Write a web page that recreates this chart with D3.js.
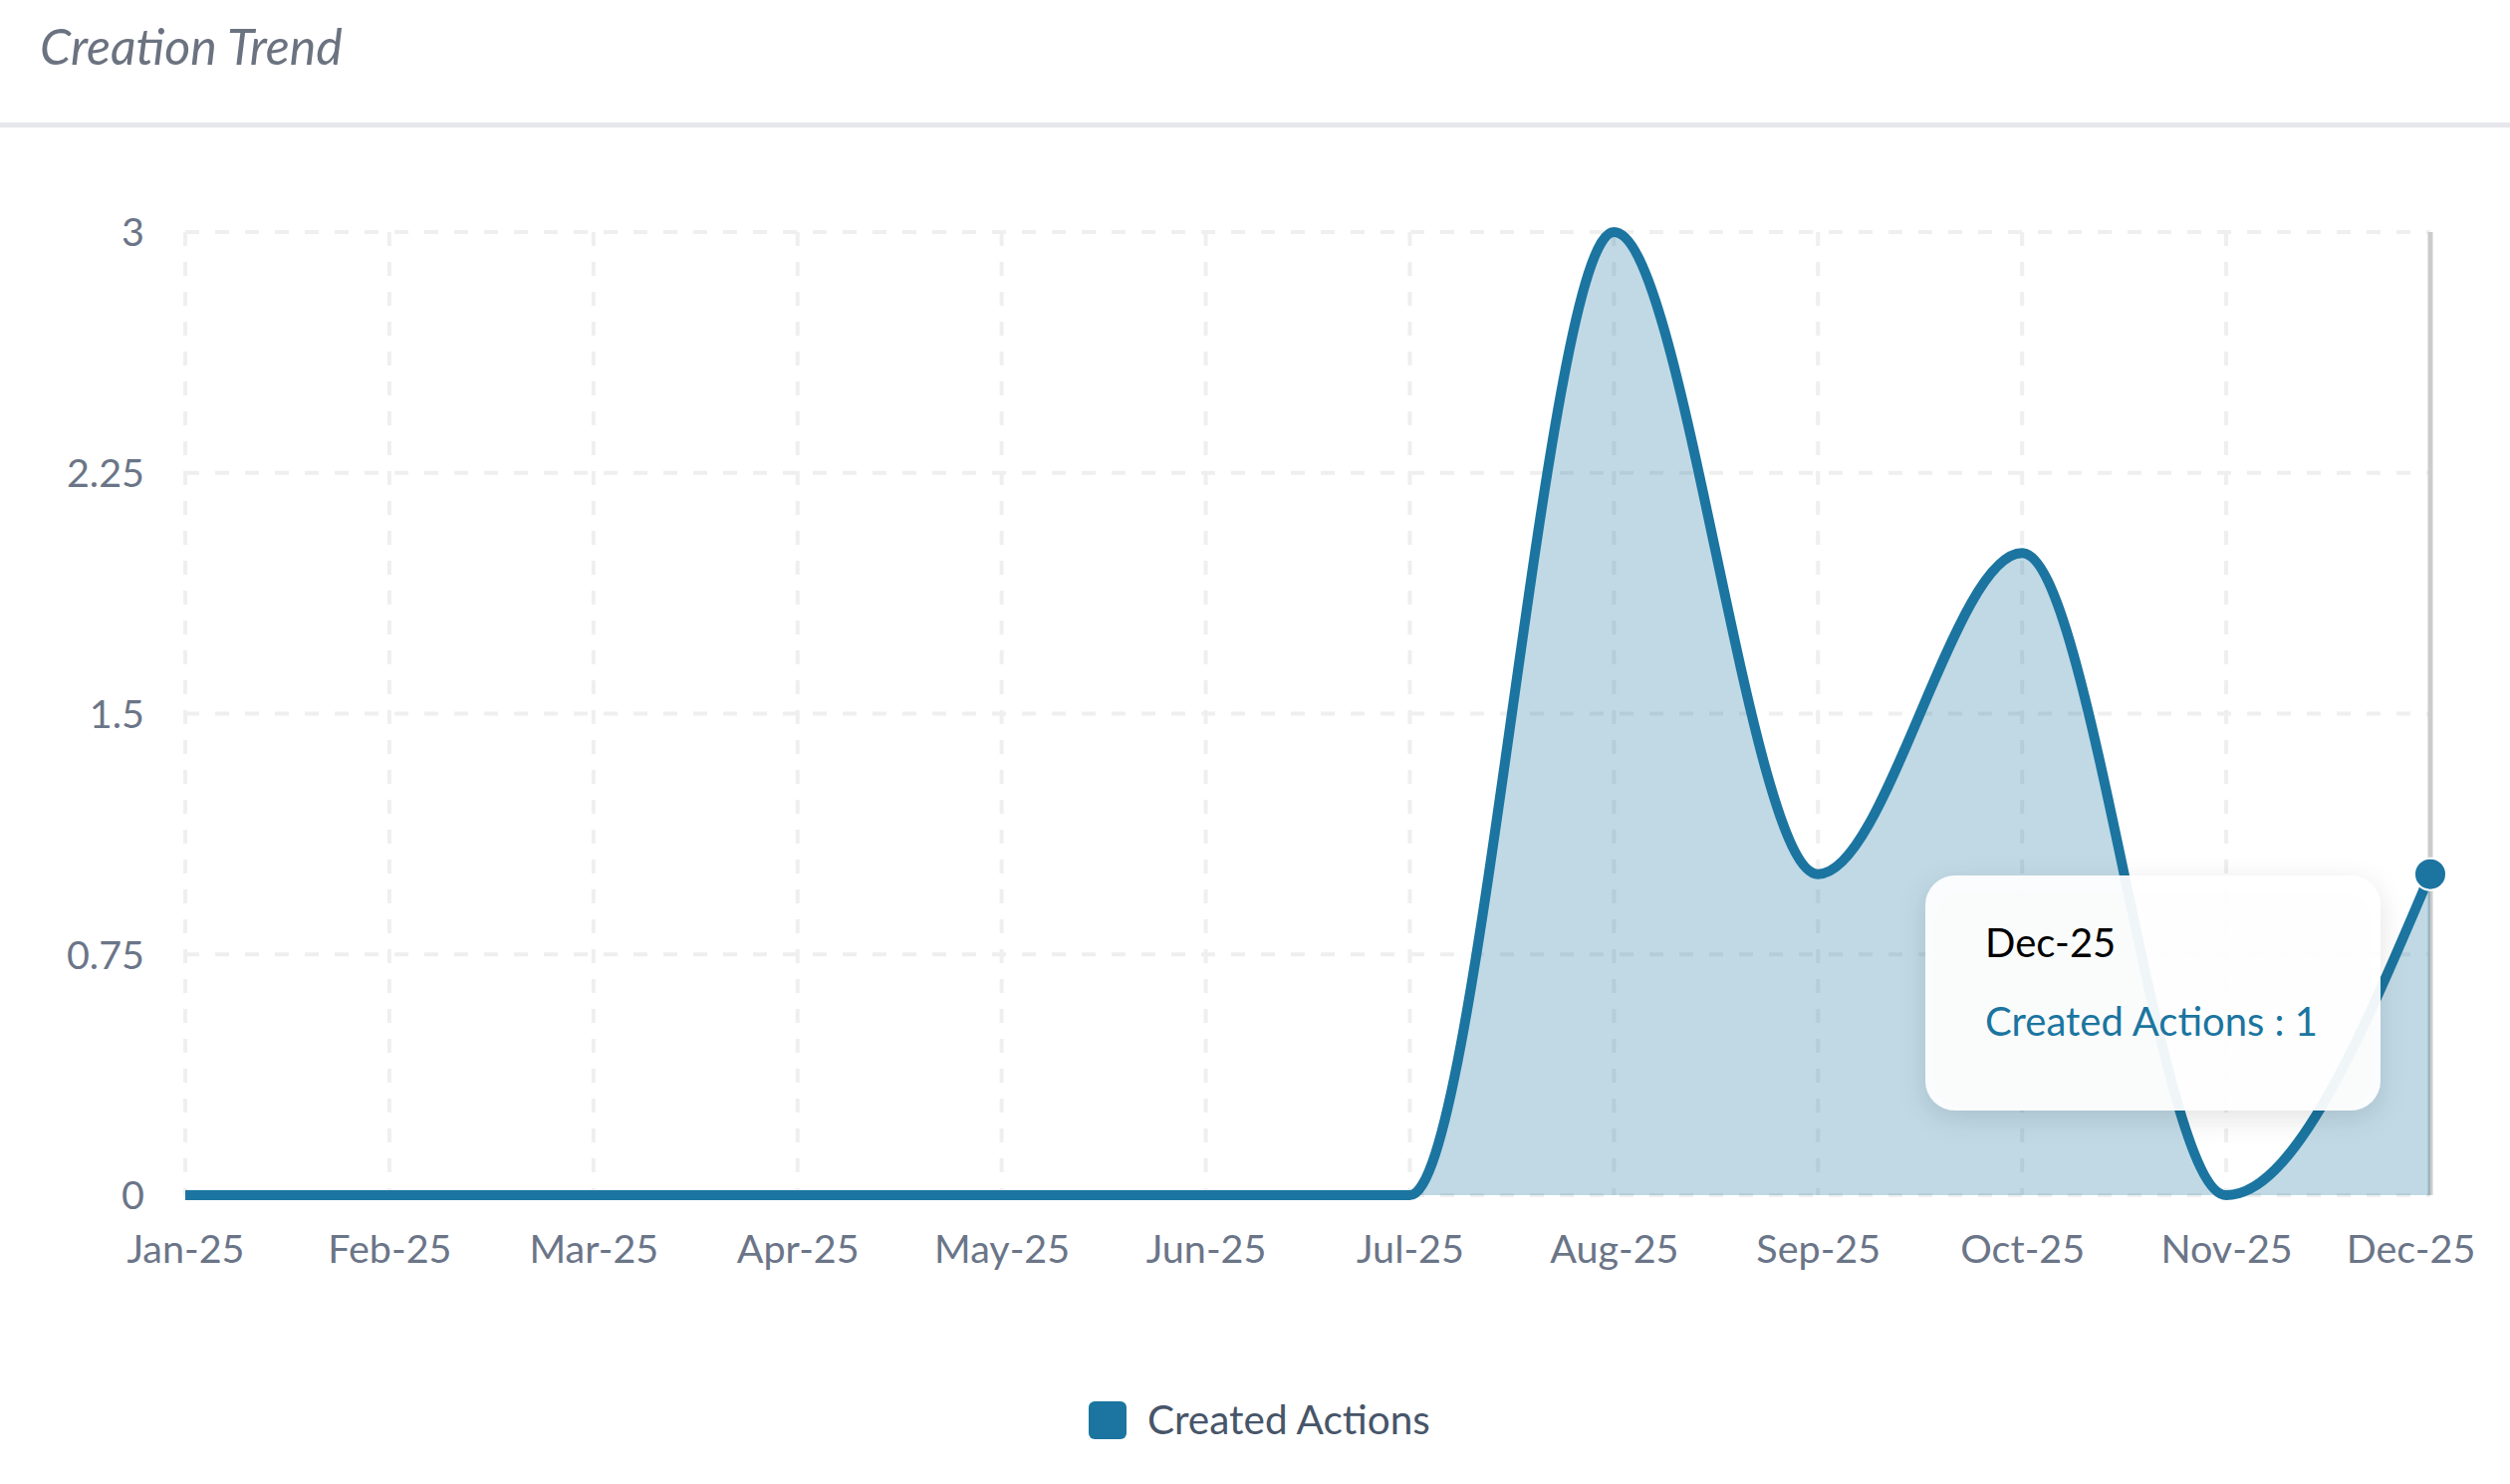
<!DOCTYPE html>
<html>
<head>
<meta charset="utf-8">
<script src="https://cdn.jsdelivr.net/npm/d3@7"></script>
<style>
  html, body { margin: 0; padding: 0; background: #fff; }
  svg { display: block; font-family: Lato, "Noto Sans", sans-serif; }
</style>
</head>
<body>
<svg class="trend" width="2520" height="1490"></svg>
<script>
const months = ["Jan-25", "Feb-25", "Mar-25", "Apr-25", "May-25", "Jun-25",
                "Jul-25", "Aug-25", "Sep-25", "Oct-25", "Nov-25", "Dec-25"];
const createdActions = [0, 0, 0, 0, 0, 0, 0, 3, 1, 2, 0, 1];
const yTicks = [0, 0.75, 1.5, 2.25, 3];
const seriesName = "Created Actions";
const hoverIndex = 11;

(function trendIFFE(){
    const svg = d3.select("svg.trend");
    const margin = {top: 233, right: 80, bottom: 290, left: 186};
    const width = svg.attr("width") - margin.left - margin.right;
    const height = svg.attr("height") - margin.top - margin.bottom;
    const color = "#1b75a0";
    const labelColor = "#6b7588";

    // title + separator
    svg.append("text")
        .attr("x", 40).attr("y", 65)
        .style("font-size", "50px")
        .style("font-style", "italic")
        .style("fill", "#6b7280")
        .text("Creation Trend");
    svg.append("rect")
        .attr("x", 0).attr("y", 123)
        .attr("width", 2520).attr("height", 5)
        .style("fill", "#e6e7eb");

    const g = svg.append("g").attr("transform", "translate(" + margin.left + "," + margin.top + ")");

    const x = d3.scalePoint().domain(months).range([0, width]);
    const y = d3.scaleLinear().domain([0, 3]).range([height, 0]);

    // grid
    g.append("g").selectAll("line.hgrid")
        .data(yTicks).enter().append("line")
        .attr("x1", 0).attr("x2", width)
        .attr("y1", d => y(d)).attr("y2", d => y(d))
        .style("stroke", "#efefef").style("stroke-width", 4)
        .style("stroke-dasharray", "14,16");
    g.append("g").selectAll("line.vgrid")
        .data(months).enter().append("line")
        .attr("x1", d => x(d)).attr("x2", d => x(d))
        .attr("y1", 0).attr("y2", height)
        .style("stroke", "#efefef").style("stroke-width", 4)
        .style("stroke-dasharray", "14,16");

    // axes
    const yAxis = g.append("g")
        .call(d3.axisLeft(y).tickValues(yTicks).tickSize(0).tickPadding(41).tickFormat(d => String(d)));
    const xAxis = g.append("g")
        .attr("transform", "translate(0," + height + ")")
        .call(d3.axisBottom(x).tickSize(0).tickPadding(40));
    [yAxis, xAxis].forEach(a => {
        a.select(".domain").remove();
        a.selectAll("text")
            .style("font-family", "Lato, 'Noto Sans', sans-serif")
            .style("font-size", "39.5px")
            .style("fill", labelColor);
    });
    yAxis.selectAll("text").attr("dy", "0.35em");
    // last label is pulled inside the frame
    xAxis.selectAll(".tick").filter(d => d === months[months.length - 1])
        .select("text").attr("x", -20);

    // crosshair
    g.append("line")
        .attr("x1", x(months[hoverIndex])).attr("x2", x(months[hoverIndex]))
        .attr("y1", 0).attr("y2", height)
        .style("stroke", "#cccccc").style("stroke-width", 5);

    const curve = d3.curveMonotoneX;
    const area = d3.area()
        .x((d, i) => x(months[i]))
        .y0(height)
        .y1(d => y(d))
        .curve(curve);
    const line = d3.line()
        .x((d, i) => x(months[i]))
        .y(d => y(d))
        .curve(curve);

    g.append("path")
        .datum(createdActions)
        .attr("d", area)
        .style("fill", color)
        .style("fill-opacity", 0.28);
    g.append("path")
        .datum(createdActions)
        .attr("d", line)
        .style("fill", "none")
        .style("stroke", color)
        .style("stroke-width", 10)
        .style("stroke-linejoin", "round");

    g.append("circle")
        .attr("cx", x(months[hoverIndex]))
        .attr("cy", y(createdActions[hoverIndex]))
        .attr("r", 16)
        .style("fill", color)
        .style("stroke", "#fff")
        .style("stroke-width", 2);

    // tooltip
    const defs = svg.append("defs");
    const f = defs.append("filter").attr("id", "shadow")
        .attr("x", "-20%").attr("y", "-20%").attr("width", "140%").attr("height", "160%");
    f.append("feDropShadow")
        .attr("dx", 0).attr("dy", 8).attr("stdDeviation", 14)
        .attr("flood-color", "#000").attr("flood-opacity", 0.12);

    const tip = svg.append("g").attr("transform", "translate(1933,879)");
    tip.append("rect")
        .attr("width", 457).attr("height", 236)
        .attr("rx", 30).attr("ry", 30)
        .style("fill", "#fff").style("fill-opacity", 0.93)
        .attr("filter", "url(#shadow)");
    tip.append("text")
        .attr("x", 60).attr("y", 82)
        .style("font-size", "40px").style("fill", "#000")
        .text(months[hoverIndex]);
    tip.append("text")
        .attr("x", 60).attr("y", 161)
        .style("font-size", "40px").style("fill", color)
        .text(seriesName + " : " + createdActions[hoverIndex]);

    // legend
    const legend = svg.append("g").attr("transform", "translate(1093,1407)");
    legend.append("rect")
        .attr("width", 38).attr("height", 38)
        .attr("rx", 6).attr("ry", 6)
        .style("fill", color);
    legend.append("text")
        .attr("x", 59).attr("y", 19).attr("dy", "0.35em")
        .style("font-size", "40.5px").style("fill", "#475569")
        .text(seriesName);
})();
</script>
</body>
</html>
